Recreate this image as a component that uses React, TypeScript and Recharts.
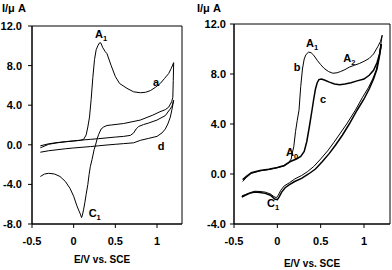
import React from "react";
import { LineChart, Line, XAxis, YAxis, ReferenceArea, ReferenceDot } from "recharts";

const FONT = "'Liberation Sans', Arial, sans-serif";

// ---- left panel (a, d) ----
const aFwdE = [-0.4, -0.3, -0.2, -0.1, 0.0, 0.08, 0.12, 0.15, 0.17, 0.19, 0.21, 0.23, 0.25, 0.27, 0.29, 0.31, 0.325, 0.35, 0.38, 0.4, 0.45, 0.5, 0.55, 0.64, 0.72, 0.8, 0.86, 0.92, 0.98, 1.04, 1.09, 1.14, 1.17, 1.2];
const aFwdI = [-0.3, 0.05, 0.2, 0.3, 0.38, 0.45, 0.55, 1.0, 1.8, 2.8, 4.6, 6.8, 8.6, 9.6, 10.0, 10.3, 10.3, 9.8, 9.4, 9.2, 8.0, 6.9, 6.2, 5.7, 5.35, 5.26, 5.3, 5.47, 5.8, 6.2, 6.7, 7.2, 7.7, 8.3];
const aRevE = [1.2, 1.195, 1.19, 1.176, 1.14, 1.1, 1.036, 0.95, 0.8, 0.6, 0.45, 0.4, 0.36, 0.33, 0.3, 0.28, 0.26, 0.245, 0.22, 0.2, 0.185, 0.17, 0.15, 0.135, 0.12, 0.105, 0.095, 0.08, 0.06, 0.036, 0.0, -0.044, -0.1, -0.164, -0.23, -0.3, -0.35, -0.4];
const aRevI = [8.3, 6.5, 4.8, 4.35, 3.8, 3.55, 3.34, 3.0, 2.5, 2.15, 2.0, 1.95, 1.8, 1.6, 1.05, 0.55, -0.1, -0.5, -1.5, -2.2, -3.0, -4.0, -5.0, -5.8, -6.5, -7.1, -7.35, -7.0, -6.6, -6.1, -5.2, -4.4, -3.7, -3.2, -2.95, -2.88, -2.95, -3.2];
const dFwdE = [-0.4, -0.3, -0.2, -0.1, 0.0, 0.1, 0.2, 0.3, 0.4, 0.5, 0.6, 0.72, 0.8, 0.9, 1.0, 1.06, 1.1, 1.13, 1.16, 1.18, 1.2];
const dFwdI = [-0.75, -0.6, -0.5, -0.4, -0.32, -0.25, -0.18, -0.1, -0.02, 0.05, 0.12, 0.2, 0.45, 0.65, 0.85, 1.2, 1.6, 2.1, 2.8, 3.6, 4.5];
const dRevE = [1.2, 1.18, 1.156, 1.1, 1.0, 0.9, 0.84, 0.78, 0.75, 0.72, 0.68, 0.6, 0.5, 0.4, 0.3, 0.2, 0.1, 0.0, -0.1, -0.2, -0.3, -0.4];
const dRevI = [4.5, 3.9, 3.6, 2.95, 2.5, 2.2, 2.05, 1.85, 1.6, 1.2, 0.95, 0.85, 0.78, 0.7, 0.62, 0.55, 0.48, 0.4, 0.32, 0.22, 0.1, -0.1];

// ---- right panel (b, c) ----
const bFwdE = [-0.4, -0.36, -0.3, -0.2, -0.1, 0.0, 0.08, 0.13, 0.16, 0.17, 0.19, 0.21, 0.23, 0.25, 0.27, 0.29, 0.31, 0.33, 0.36, 0.39, 0.42, 0.46, 0.5, 0.54, 0.59, 0.64, 0.69, 0.73, 0.78, 0.83, 0.89, 0.95, 1.01, 1.06, 1.11, 1.16, 1.19, 1.21];
const bFwdI = [-0.6, -0.3, 0.05, 0.25, 0.35, 0.5, 0.65, 0.9, 1.2, 1.6, 2.2, 3.4, 4.3, 5.1, 7.0, 8.4, 9.2, 9.55, 9.75, 9.7, 9.5, 9.1, 8.75, 8.45, 8.2, 8.06, 8.1, 8.2, 8.35, 8.55, 8.7, 8.85, 9.05, 9.25, 9.6, 10.2, 10.6, 11.1];
const bRevE = [1.21, 1.19, 1.17, 1.14, 1.1, 1.05, 0.98, 0.9, 0.8, 0.72, 0.65, 0.58, 0.5, 0.42, 0.35, 0.28, 0.2, 0.14, 0.08, 0.04, 0.01, -0.01, -0.04, -0.08, -0.14, -0.2, -0.26, -0.32, -0.37, -0.41];
const bRevI = [11.1, 10.2, 9.2, 8.3, 7.6, 6.9, 6.1, 5.1, 4.0, 3.2, 2.5, 1.85, 1.2, 0.6, 0.2, -0.12, -0.4, -0.7, -0.95, -1.3, -1.7, -1.9, -1.8, -1.6, -1.45, -1.4, -1.38, -1.5, -1.65, -1.75];
const cFwdE = [-0.4, -0.36, -0.3, -0.2, -0.1, 0.0, 0.08, 0.15, 0.22, 0.27, 0.31, 0.34, 0.37, 0.4, 0.42, 0.44, 0.46, 0.48, 0.51, 0.55, 0.6, 0.66, 0.72, 0.78, 0.85, 0.92, 1.0, 1.06, 1.11, 1.15, 1.18, 1.2];
const cFwdI = [-0.45, -0.2, 0.1, 0.28, 0.38, 0.52, 0.68, 1.0, 1.2, 1.4, 1.8, 2.6, 3.8, 5.1, 6.0, 6.8, 7.3, 7.55, 7.6, 7.5, 7.35, 7.2, 7.15, 7.2, 7.3, 7.45, 7.6, 7.9, 8.3, 8.9, 9.6, 10.4];
const cRevE = [1.2, 1.18, 1.15, 1.11, 1.06, 1.0, 0.92, 0.83, 0.75, 0.67, 0.6, 0.52, 0.44, 0.36, 0.28, 0.2, 0.14, 0.09, 0.05, 0.02, 0.0, -0.03, -0.08, -0.14, -0.2, -0.26, -0.32, -0.37, -0.41];
const cRevI = [10.4, 9.5, 8.4, 7.6, 6.8, 6.0, 5.1, 4.0, 3.1, 2.3, 1.65, 1.0, 0.4, 0.0, -0.35, -0.6, -0.85, -1.1, -1.45, -1.85, -2.05, -2.0, -1.7, -1.55, -1.48, -1.45, -1.55, -1.7, -1.85];

const xTicks = [-0.5, 0, 0.5, 1];
const leftYTicks = [-8, -4, 0, 4, 8, 12];
const rightYTicks = [-4, 0, 4, 8, 12];

const zip = (e: number[], i: number[]) => e.map((x, k) => ({ x, y: i[k] }));

const tickStyle = { fill: "#000", fontSize: 11, fontWeight: "bold", fontFamily: FONT };

// peak / curve tags drawn at a data point, with optional subscript
function tag(text: string, sub: string, anchor: "start" | "middle" | "end" = "middle") {
  return (props: any) => {
    const vb = props.viewBox || {};
    const x = (vb.x || 0) + (vb.width || 0) / 2;
    const y = (vb.y || 0) + (vb.height || 0) / 2;
    return (
      <text x={x} y={y} textAnchor={anchor} fontFamily={FONT} fontWeight="bold" fontSize={11} fill="#000">
        {text}
        {sub ? (
          <tspan fontSize={7.5} dy={3}>
            {sub}
          </tspan>
        ) : null}
      </text>
    );
  };
}

export default function App() {
  const line = (key: string, data: { x: number; y: number }[], w = 1) => (
    <Line key={key} data={data} dataKey="y" type="linear" dot={false} stroke="#000" strokeWidth={w} isAnimationActive={false} />
  );
  return (
    <div style={{ position: "absolute", left: 0, top: 0, width: 392, height: 270, background: "#fff" }}>
      <div style={{ position: "absolute", left: 0, top: 0 }}>
        <LineChart width={190} height={270} margin={{ top: 26, right: 8, bottom: 26, left: 0 }}>
          <XAxis dataKey="x" type="number" domain={[-0.5, 1.3]} ticks={xTicks} allowDataOverflow height={20} tick={tickStyle} tickSize={4} tickMargin={9} stroke="#000" tickFormatter={(v: number) => String(v)} />
          <YAxis dataKey="y" type="number" domain={[-8, 12]} ticks={leftYTicks} allowDataOverflow width={32} tick={tickStyle} tickSize={4} tickMargin={6} stroke="#000" tickFormatter={(v: number) => v.toFixed(1)} />
          <ReferenceArea x1={-0.5} x2={1.3} y1={-8} y2={12} fill="none" stroke="#000" strokeWidth={1} />
          {line("af", zip(aFwdE, aFwdI))}
          {line("ar", zip(aRevE, aRevI))}
          {line("df", zip(dFwdE, dFwdI))}
          {line("dr", zip(dRevE, dRevI))}
          <ReferenceDot x={0.33} y={10.8} r={0} fill="none" stroke="none" label={tag("A", "1")} />
          <ReferenceDot x={0.99} y={5.9} r={0} fill="none" stroke="none" label={tag("a", "")} />
          <ReferenceDot x={1.05} y={-0.5} r={0} fill="none" stroke="none" label={tag("d", "")} />
          <ReferenceDot x={0.18} y={-7.3} r={0} fill="none" stroke="none" label={tag("C", "1", "start")} />
        </LineChart>
      </div>
      <div style={{ position: "absolute", left: 196, top: 0 }}>
        <LineChart width={196} height={270} margin={{ top: 24, right: 2, bottom: 26, left: 0 }}>
          <XAxis dataKey="x" type="number" domain={[-0.5, 1.3]} ticks={xTicks} allowDataOverflow height={20} tick={tickStyle} tickSize={4} tickMargin={9} stroke="#000" tickFormatter={(v: number) => String(v)} />
          <YAxis dataKey="y" type="number" domain={[-4, 12]} ticks={rightYTicks} allowDataOverflow width={38} tick={tickStyle} tickSize={4} tickMargin={4} stroke="#000" tickFormatter={(v: number) => v.toFixed(1)} />
          <ReferenceArea x1={-0.5} x2={1.3} y1={-4} y2={12} fill="none" stroke="#000" strokeWidth={1} />
          {line("bf", zip(bFwdE, bFwdI))}
          {line("br", zip(bRevE, bRevI))}
          {line("cf", zip(cFwdE, cFwdI), 1.5)}
          {line("cr", zip(cRevE, cRevI), 1.5)}
          <ReferenceDot x={0.4} y={10.16} r={0} fill="none" stroke="none" label={tag("A", "1")} />
          <ReferenceDot x={0.83} y={8.96} r={0} fill="none" stroke="none" label={tag("A", "2")} />
          <ReferenceDot x={0.227} y={8.24} r={0} fill="none" stroke="none" label={tag("b", "")} />
          <ReferenceDot x={0.527} y={5.68} r={0} fill="none" stroke="none" label={tag("c", "")} />
          <ReferenceDot x={0.17} y={1.44} r={0} fill="none" stroke="none" label={tag("A", "0")} />
          <ReferenceDot x={-0.05} y={-2.64} r={0} fill="none" stroke="none" label={tag("C", "1")} />
        </LineChart>
      </div>
      <svg width={392} height={270} style={{ position: "absolute", left: 0, top: 0, pointerEvents: "none" }}>
        <g fontFamily={FONT} fontWeight="bold" fill="#000">
          <text x={2} y={12} fontSize={11}>I/μ A</text>
          <text x={197} y={12} fontSize={11}>I/μ A</text>
          <text x={102} y={263} fontSize={10} textAnchor="middle">E/V vs. SCE</text>
          <text x={312} y={267} fontSize={10} textAnchor="middle">E/V vs. SCE</text>
        </g>
      </svg>
    </div>
  );
}
